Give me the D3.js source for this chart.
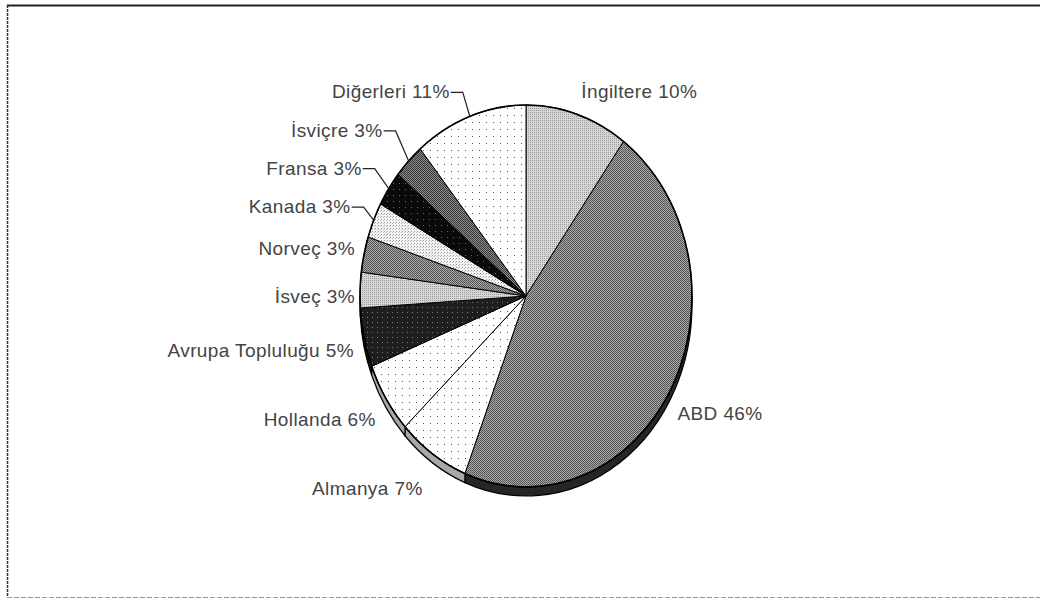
<!DOCTYPE html>
<html>
<head>
<meta charset="utf-8">
<script src="https://cdn.jsdelivr.net/npm/d3@7"></script>
<style>
  html, body { margin: 0; padding: 0; background: #fff; }
  svg { display: block; }
</style>
</head>
<body>
<svg id="chart" width="1040" height="600"></svg>
<script>
// ---- data ----
const categories = ["İngiltere", "ABD", "Almanya", "Hollanda", "Avrupa Topluluğu", "İsveç", "Norveç", "Kanada", "Fransa", "İsviçre", "Diğerleri"];
const values = [10, 46, 7, 6, 5, 3, 3, 3, 3, 3, 11];
const labelTexts = categories.map((c, i) => `${c} ${values[i]}%`);

// ---- styles ----
const fillStyles = ["light", "mid", "dots", "dots", "darkdots", "light", "mid", "fine", "black", "midDark", "dots"];
const sideColors = ["#999", "#262626", "#a8a8a8", "#a8a8a8", "#111", "#999", "#333", "#bbb", "#000", "#333", "#bbb"];
// label placement relative to the slice's edge point: [dx, dy, anchor, leader]
const labelLayout = [
  [4, -16, "start", false],
  [6, 32, "start", false],
  [-10, 41, "end", false],
  [-10, 28, "end", false],
  [-10, 19, "end", false],
  [-5, 13, "end", false],
  [-9, 1, "end", false],
  [-23, -7, "end", true],
  [-27, -14, "end", true],
  [-26, -24, "end", true],
  [-20, -18, "end", true]
];

const svg = d3.select("#chart");
const W = 1040, H = 600;
const cx = 526, cy = 296, rx = 166, ry = 191, depth = 9;

// frame
svg.append("line").attr("x1", 7).attr("x2", W).attr("y1", 5.5).attr("y2", 5.5).attr("stroke", "#222").attr("stroke-width", 2);
svg.append("line").attr("x1", 7.5).attr("x2", 7.5).attr("y1", 5).attr("y2", 597).attr("stroke", "#333").attr("stroke-width", 1.5).attr("stroke-dasharray", "3,1");
svg.append("line").attr("x1", 7).attr("x2", W).attr("y1", 597.5).attr("y2", 597.5).attr("stroke", "#9a9a9a").attr("stroke-width", 1).attr("stroke-dasharray", "5,2");

// patterns
const defs = svg.append("defs");
function pat(id, size, bg, pixels) {
  const p = defs.append("pattern").attr("id", id).attr("patternUnits", "userSpaceOnUse")
    .attr("width", size).attr("height", size);
  p.append("rect").attr("width", size).attr("height", size).attr("fill", bg);
  pixels.forEach(([x, y, c]) => p.append("rect").attr("x", x).attr("y", y).attr("width", 1).attr("height", 1).attr("fill", c));
}
pat("light", 2, "#d6d6d6", [[0, 0, "#9c9c9c"]]);
pat("mid", 2, "#a9a9a9", [[0, 0, "#4e4e4e"], [1, 1, "#5a5a5a"]]);
pat("midDark", 2, "#8c8c8c", [[0, 0, "#333"], [1, 1, "#3a3a3a"]]);
pat("dots", 7, "#ffffff", [[3, 3, "#555"]]);
pat("fine", 3, "#f4f4f4", [[0, 0, "#999"], [2, 1, "#bbb"]]);
pat("darkdots", 5, "#1e1e1e", [[2, 2, "#777"]]);
pat("black", 6, "#0a0a0a", [[3, 3, "#666"]]);

const pie = d3.pie().sort(null).value(d => d);
const arcs = pie(values);

const pt = (a, dy = 0) => [cx + rx * Math.sin(a), cy - ry * Math.cos(a) + dy];

// side walls (visible bottom half)
const g = svg.append("g");
arcs.forEach((d, i) => {
  const lo = Math.max(d.startAngle, Math.PI / 2);
  const hi = Math.min(d.endAngle, 3 * Math.PI / 2);
  if (hi <= lo) return;
  const [x0, y0] = pt(lo), [x1, y1] = pt(hi);
  const large = (hi - lo) > Math.PI ? 1 : 0;
  const p = `M${x0},${y0} A${rx},${ry} 0 ${large} 1 ${x1},${y1} L${x1},${y1 + depth} A${rx},${ry} 0 ${large} 0 ${x0},${y0 + depth} Z`;
  g.append("path").attr("d", p).attr("fill", sideColors[i]).attr("stroke", "#000").attr("stroke-width", 1.2);
});

// top slices
arcs.forEach((d, i) => {
  const [x0, y0] = pt(d.startAngle), [x1, y1] = pt(d.endAngle);
  const large = (d.endAngle - d.startAngle) > Math.PI ? 1 : 0;
  const p = `M${cx},${cy} L${x0},${y0} A${rx},${ry} 0 ${large} 1 ${x1},${y1} Z`;
  g.append("path").attr("d", p).attr("fill", `url(#${fillStyles[i]})`).attr("stroke", "#000").attr("stroke-width", 1).attr("stroke-linejoin", "round");
});
// outer outline
g.append("ellipse").attr("cx", cx).attr("cy", cy).attr("rx", rx).attr("ry", ry)
  .attr("fill", "none").attr("stroke", "#000").attr("stroke-width", 1.6);

// labels
const lg = svg.append("g").attr("font-family", "'Liberation Sans', Arial, sans-serif").attr("font-size", 19)
  .attr("letter-spacing", 0.4).attr("fill", "#444");
arcs.forEach((d, i) => {
  const mid = (d.startAngle + d.endAngle) / 2;
  const [ex, ey] = pt(mid);
  const [dx, dy, anchor, leader] = labelLayout[i];
  const tx = ex + dx, ty = ey + dy;
  lg.append("text").attr("x", tx).attr("y", ty).attr("text-anchor", anchor).text(labelTexts[i]);
  if (leader) {
    const ly = ty - 6;
    const path = d3.path();
    path.moveTo(tx + 1, ly);
    path.lineTo(tx + 13, ly);
    path.lineTo(ex, ey);
    svg.append("path").attr("d", path.toString()).attr("fill", "none").attr("stroke", "#222").attr("stroke-width", 1.2);
  }
});
</script>
</body>
</html>
